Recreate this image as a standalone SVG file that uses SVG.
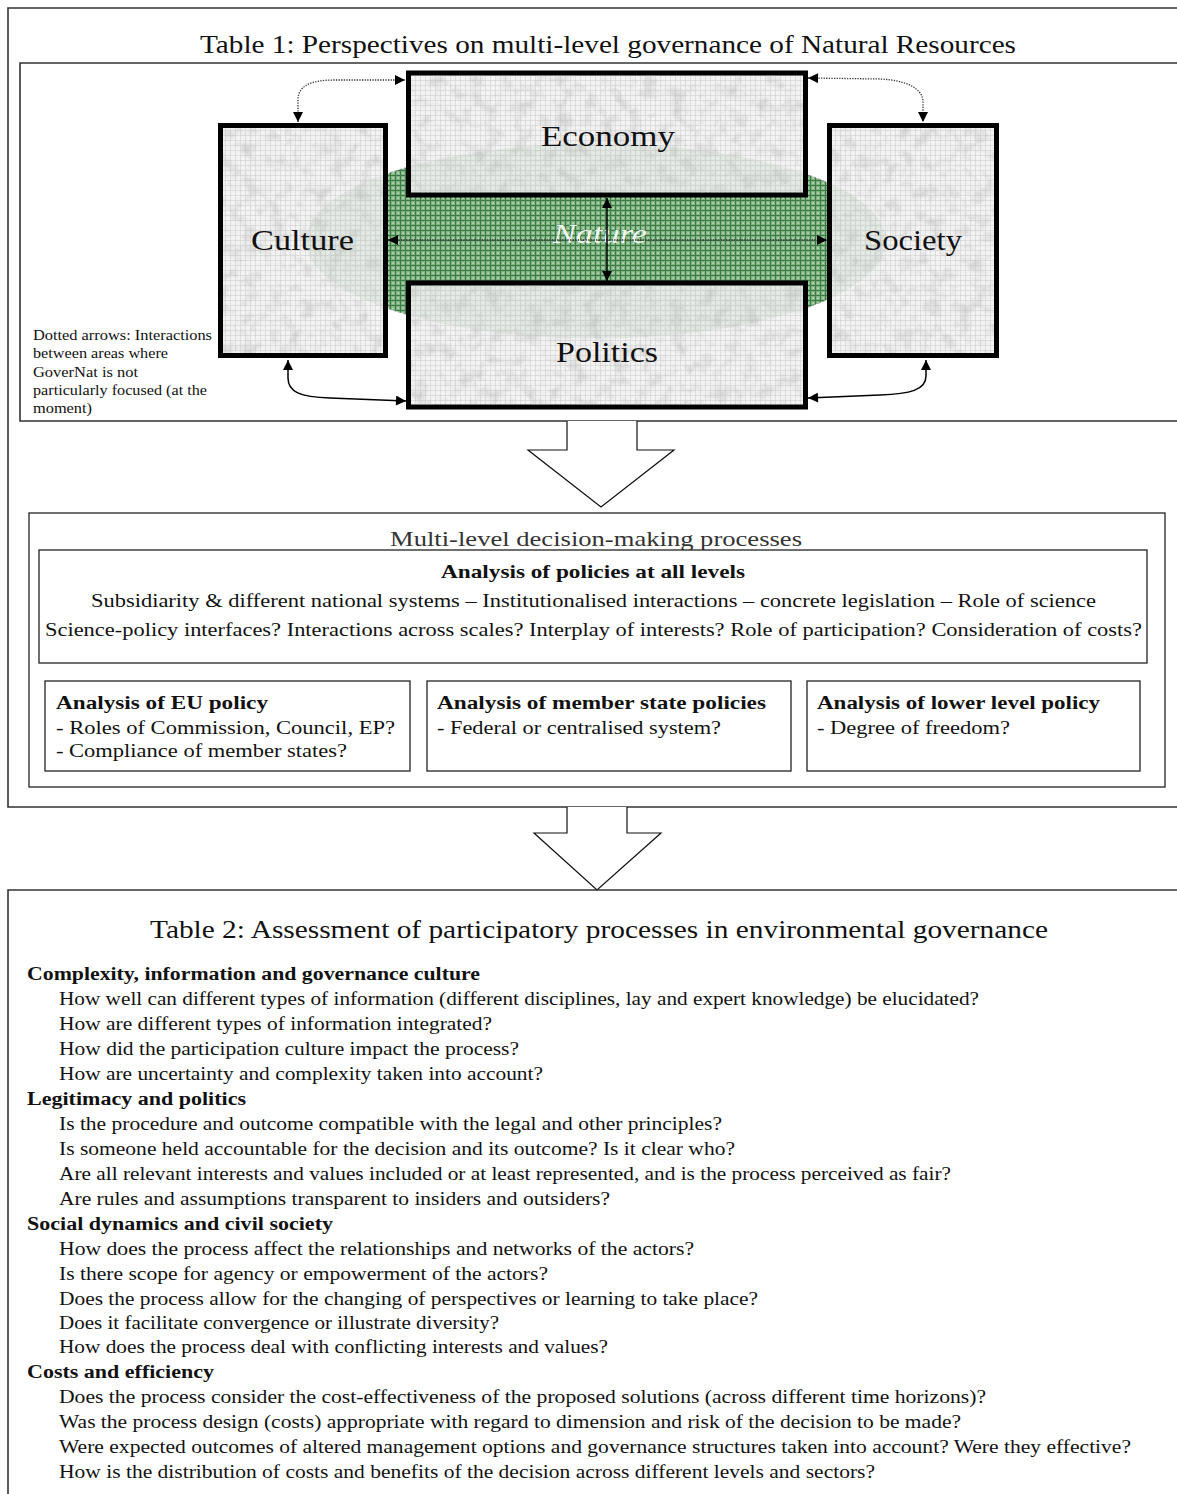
<svg xmlns="http://www.w3.org/2000/svg" width="1177" height="1494" viewBox="0 0 1177 1494">
<style>
.serif{font-family:"Liberation Serif","Times New Roman",serif;fill:#111}
.title{font-size:25.5px}
.boxlbl{font-size:29px}
.note{font-size:14px}
.q{font-size:18.5px}
.h{font-size:18.5px;font-weight:bold}
.ml{font-size:19.5px}
.mlb{font-size:19.5px;font-weight:bold}
.frame{fill:none;stroke:#333;stroke-width:1.6}
.pbox{fill:#fff;stroke:#222;stroke-width:1.3}
.area{fill:url(#marble);stroke:#000;stroke-width:5}
.mot{fill:#fff;filter:url(#mottle)}
.dot{fill:none;stroke:#333;stroke-width:1.3;stroke-dasharray:1.3 1.3}
.sol{fill:none;stroke:#000;stroke-width:1.5}
.big{fill:#fff;stroke:#111;stroke-width:1.2}
</style>
<defs>
<pattern id="marble" width="5" height="5" patternUnits="userSpaceOnUse">
<rect width="5" height="5" fill="#f1f1f1" fill-opacity="0.86"/>
<path d="M0,0.5H5M0.5,0V5" stroke="#cdcdcd" stroke-width="0.7" stroke-opacity="0.8"/>
</pattern>
<pattern id="green" width="5" height="5" patternUnits="userSpaceOnUse">
<rect width="5" height="5" fill="#80b482"/>
<path d="M0,0.5H5M0.5,0V5" stroke="#3d7a46" stroke-width="1"/>
<rect x="2.5" y="2.5" width="1.2" height="1.2" fill="#eef8ee"/>
</pattern>
<filter id="mottle" x="0" y="0" width="1" height="1" primitiveUnits="userSpaceOnUse">
<feTurbulence type="fractalNoise" baseFrequency="0.07" numOctaves="3" seed="7"/>
<feColorMatrix type="matrix" values="0 0 0 0 0.5  0 0 0 0 0.5  0 0 0 0 0.5  1.3 0 0 0 -0.6"/>
<feComposite in2="SourceGraphic" operator="in"/>
</filter>
<marker id="ah" viewBox="0 0 10 10" refX="10" refY="5" markerWidth="11" markerHeight="10" markerUnits="userSpaceOnUse" orient="auto-start-reverse">
<path d="M0,0 L10,5 L0,10 z" fill="#000"/>
</marker>
</defs>

<rect width="1177" height="1494" fill="#fff"/>

<!-- Table 1 outer frame -->
<g id="table1-frame">
<path class="frame" d="M1180,8 H8 V807 H1180"/>
<text class="serif title" x="200" y="53" textLength="816" lengthAdjust="spacingAndGlyphs">Table 1: Perspectives on multi-level governance of Natural Resources</text>
<path class="frame" d="M1180,63 H20 V421 H1180"/>
</g>

<!-- Nature ellipse -->
<g id="node-nature">
<ellipse cx="596" cy="241" rx="290" ry="97" fill="url(#green)" stroke="#888" stroke-width="0.8" stroke-dasharray="3 2"/>
</g>

<g id="node-economy">
<rect class="area" x="408.5" y="73" width="397" height="122"/>
<rect class="mot" x="411" y="75.5" width="392" height="117"/>
<text class="serif boxlbl" x="541" y="146" textLength="134" lengthAdjust="spacingAndGlyphs">Economy</text>
</g>
<g id="node-culture">
<rect class="area" x="220.5" y="125.5" width="165" height="230"/>
<rect class="mot" x="223" y="128" width="160" height="225"/>
<text class="serif boxlbl" x="251" y="250" textLength="103" lengthAdjust="spacingAndGlyphs">Culture</text>
</g>
<g id="node-society">
<rect class="area" x="829.5" y="125.5" width="167" height="230"/>
<rect class="mot" x="832" y="128" width="162" height="225"/>
<text class="serif boxlbl" x="864" y="250" textLength="98" lengthAdjust="spacingAndGlyphs">Society</text>
</g>
<g id="node-politics">
<rect class="area" x="408.5" y="283" width="397" height="124"/>
<rect class="mot" x="411" y="285.5" width="392" height="119"/>
<text class="serif boxlbl" x="556" y="362" textLength="102" lengthAdjust="spacingAndGlyphs">Politics</text>
</g>

<g id="label-nature">
<text x="553" y="243" textLength="94" lengthAdjust="spacingAndGlyphs" style="font-family:'Liberation Serif',serif;font-style:italic;font-size:28px;fill:#fff;fill-opacity:0.92">Nature</text>
</g>

<!-- connectors -->
<g id="connectors">
<path class="dot" d="M298,122 L298,100 C298,86 310,80 335,80 L405,80" marker-start="url(#ah)" marker-end="url(#ah)"/>
<path class="dot" d="M808,78 L880,79 C905,80 923,88 923,102 L923,122" marker-start="url(#ah)" marker-end="url(#ah)"/>
<path class="sol" d="M288,360 L288,378 C288,392 300,397 330,398 L406,401" marker-start="url(#ah)" marker-end="url(#ah)"/>
<path class="sol" d="M926,360 L926,376 C926,390 910,394 880,395 L808,398" marker-start="url(#ah)" marker-end="url(#ah)"/>
<path class="dot" d="M388,240 L827,240" marker-start="url(#ah)" marker-end="url(#ah)"/>
<path class="sol" d="M607,198 L607,281" marker-start="url(#ah)" marker-end="url(#ah)"/>
<path id="big-arrow-1" class="big" d="M567,421 V450 H528 L601,507 L674,450 H637 V421"/>
<path id="big-arrow-2" class="big" d="M567,807 V833 H534 L597,890 L661,833 H627 V807"/>
</g>

<g id="note-dotted">
<text class="serif note" x="33" y="340" textLength="179" lengthAdjust="spacingAndGlyphs">Dotted arrows: Interactions</text>
<text class="serif note" x="33" y="358" textLength="135" lengthAdjust="spacingAndGlyphs">between areas where</text>
<text class="serif note" x="33" y="377" textLength="105" lengthAdjust="spacingAndGlyphs">GoverNat is not</text>
<text class="serif note" x="33" y="395" textLength="174" lengthAdjust="spacingAndGlyphs">particularly focused (at the</text>
<text class="serif note" x="33" y="413" textLength="59" lengthAdjust="spacingAndGlyphs">moment)</text>
</g>

<!-- Multi-level decision-making -->
<g id="node-multilevel">
<rect class="pbox" x="29" y="513" width="1136" height="274"/>
<text class="serif" x="390" y="546" textLength="412" lengthAdjust="spacingAndGlyphs" style="font-size:22px;fill:#333">Multi-level decision-making processes</text>
</g>
<g id="node-all-levels">
<rect class="pbox" x="39" y="550" width="1108" height="113"/>
<text class="serif mlb" x="441" y="578" textLength="304" lengthAdjust="spacingAndGlyphs">Analysis of policies at all levels</text>
<text class="serif ml" x="91" y="607" textLength="1005" lengthAdjust="spacingAndGlyphs">Subsidiarity &amp; different national systems – Institutionalised interactions – concrete legislation – Role of science</text>
<text class="serif ml" x="45" y="636" textLength="1097" lengthAdjust="spacingAndGlyphs">Science-policy interfaces? Interactions across scales?  Interplay of interests? Role of participation? Consideration of costs?</text>
</g>
<g id="node-eu">
<rect class="pbox" x="45" y="681" width="365" height="90"/>
<text class="serif mlb" x="56" y="709" textLength="212" lengthAdjust="spacingAndGlyphs">Analysis of EU policy</text>
<text class="serif ml" x="56" y="734" textLength="339" lengthAdjust="spacingAndGlyphs">- Roles of Commission, Council, EP?</text>
<text class="serif ml" x="56" y="757" textLength="291" lengthAdjust="spacingAndGlyphs">- Compliance of member states?</text>
</g>
<g id="node-member">
<rect class="pbox" x="427" y="681" width="364" height="90"/>
<text class="serif mlb" x="437" y="709" textLength="329" lengthAdjust="spacingAndGlyphs">Analysis of member state policies</text>
<text class="serif ml" x="437" y="734" textLength="284" lengthAdjust="spacingAndGlyphs">- Federal or centralised system?</text>
</g>
<g id="node-lower">
<rect class="pbox" x="807" y="681" width="333" height="90"/>
<text class="serif mlb" x="817" y="709" textLength="283" lengthAdjust="spacingAndGlyphs">Analysis of lower level policy</text>
<text class="serif ml" x="817" y="734" textLength="193" lengthAdjust="spacingAndGlyphs">- Degree of freedom?</text>
</g>

<!-- Table 2 -->
<g id="table2">
<path class="frame" d="M1180,890 H8 V1500"/>
<text class="serif title" x="150" y="938" textLength="898" lengthAdjust="spacingAndGlyphs">Table 2: Assessment of participatory processes in environmental governance</text>
<text class="serif h" x="27" y="980" textLength="453" lengthAdjust="spacingAndGlyphs">Complexity, information and governance culture</text>
<text class="serif q" x="59" y="1005" textLength="920" lengthAdjust="spacingAndGlyphs">How well can different types of information (different disciplines, lay and expert knowledge) be elucidated?</text>
<text class="serif q" x="59" y="1030" textLength="433" lengthAdjust="spacingAndGlyphs">How are different types of information integrated?</text>
<text class="serif q" x="59" y="1055" textLength="460" lengthAdjust="spacingAndGlyphs">How did the participation culture impact the process?</text>
<text class="serif q" x="59" y="1080" textLength="484" lengthAdjust="spacingAndGlyphs">How are uncertainty and complexity taken into account?</text>
<text class="serif h" x="27" y="1105" textLength="219" lengthAdjust="spacingAndGlyphs">Legitimacy and politics</text>
<text class="serif q" x="59" y="1130" textLength="663" lengthAdjust="spacingAndGlyphs">Is the procedure and outcome compatible with the legal and other principles?</text>
<text class="serif q" x="59" y="1155" textLength="676" lengthAdjust="spacingAndGlyphs">Is someone held accountable for the decision and its outcome? Is it clear who?</text>
<text class="serif q" x="59" y="1180" textLength="892" lengthAdjust="spacingAndGlyphs">Are all relevant interests and values included or at least represented, and is the process perceived as fair?</text>
<text class="serif q" x="59" y="1205" textLength="551" lengthAdjust="spacingAndGlyphs">Are rules and assumptions transparent to insiders and outsiders?</text>
<text class="serif h" x="27" y="1230" textLength="306" lengthAdjust="spacingAndGlyphs">Social dynamics and civil society</text>
<text class="serif q" x="59" y="1255" textLength="635" lengthAdjust="spacingAndGlyphs">How does the process affect the relationships and networks of the actors?</text>
<text class="serif q" x="59" y="1280" textLength="489" lengthAdjust="spacingAndGlyphs">Is there scope for agency or empowerment of the actors?</text>
<text class="serif q" x="59" y="1305" textLength="699" lengthAdjust="spacingAndGlyphs">Does the process allow for the changing of perspectives or learning to take place?</text>
<text class="serif q" x="59" y="1329" textLength="440" lengthAdjust="spacingAndGlyphs">Does it facilitate convergence or illustrate diversity?</text>
<text class="serif q" x="59" y="1353" textLength="549" lengthAdjust="spacingAndGlyphs">How does the process deal with conflicting interests and values?</text>
<text class="serif h" x="27" y="1378" textLength="187" lengthAdjust="spacingAndGlyphs">Costs and efficiency</text>
<text class="serif q" x="59" y="1403" textLength="927" lengthAdjust="spacingAndGlyphs">Does the process consider the cost-effectiveness of the proposed solutions (across different time horizons)?</text>
<text class="serif q" x="59" y="1428" textLength="902" lengthAdjust="spacingAndGlyphs">Was the process design (costs) appropriate with regard to dimension and risk of the decision to be made?</text>
<text class="serif q" x="59" y="1453" textLength="1072" lengthAdjust="spacingAndGlyphs">Were expected outcomes of altered management options and governance structures taken into account? Were they effective?</text>
<text class="serif q" x="59" y="1478" textLength="816" lengthAdjust="spacingAndGlyphs">How is the distribution of costs and benefits of the decision across different levels and sectors?</text>
</g>
</svg>
